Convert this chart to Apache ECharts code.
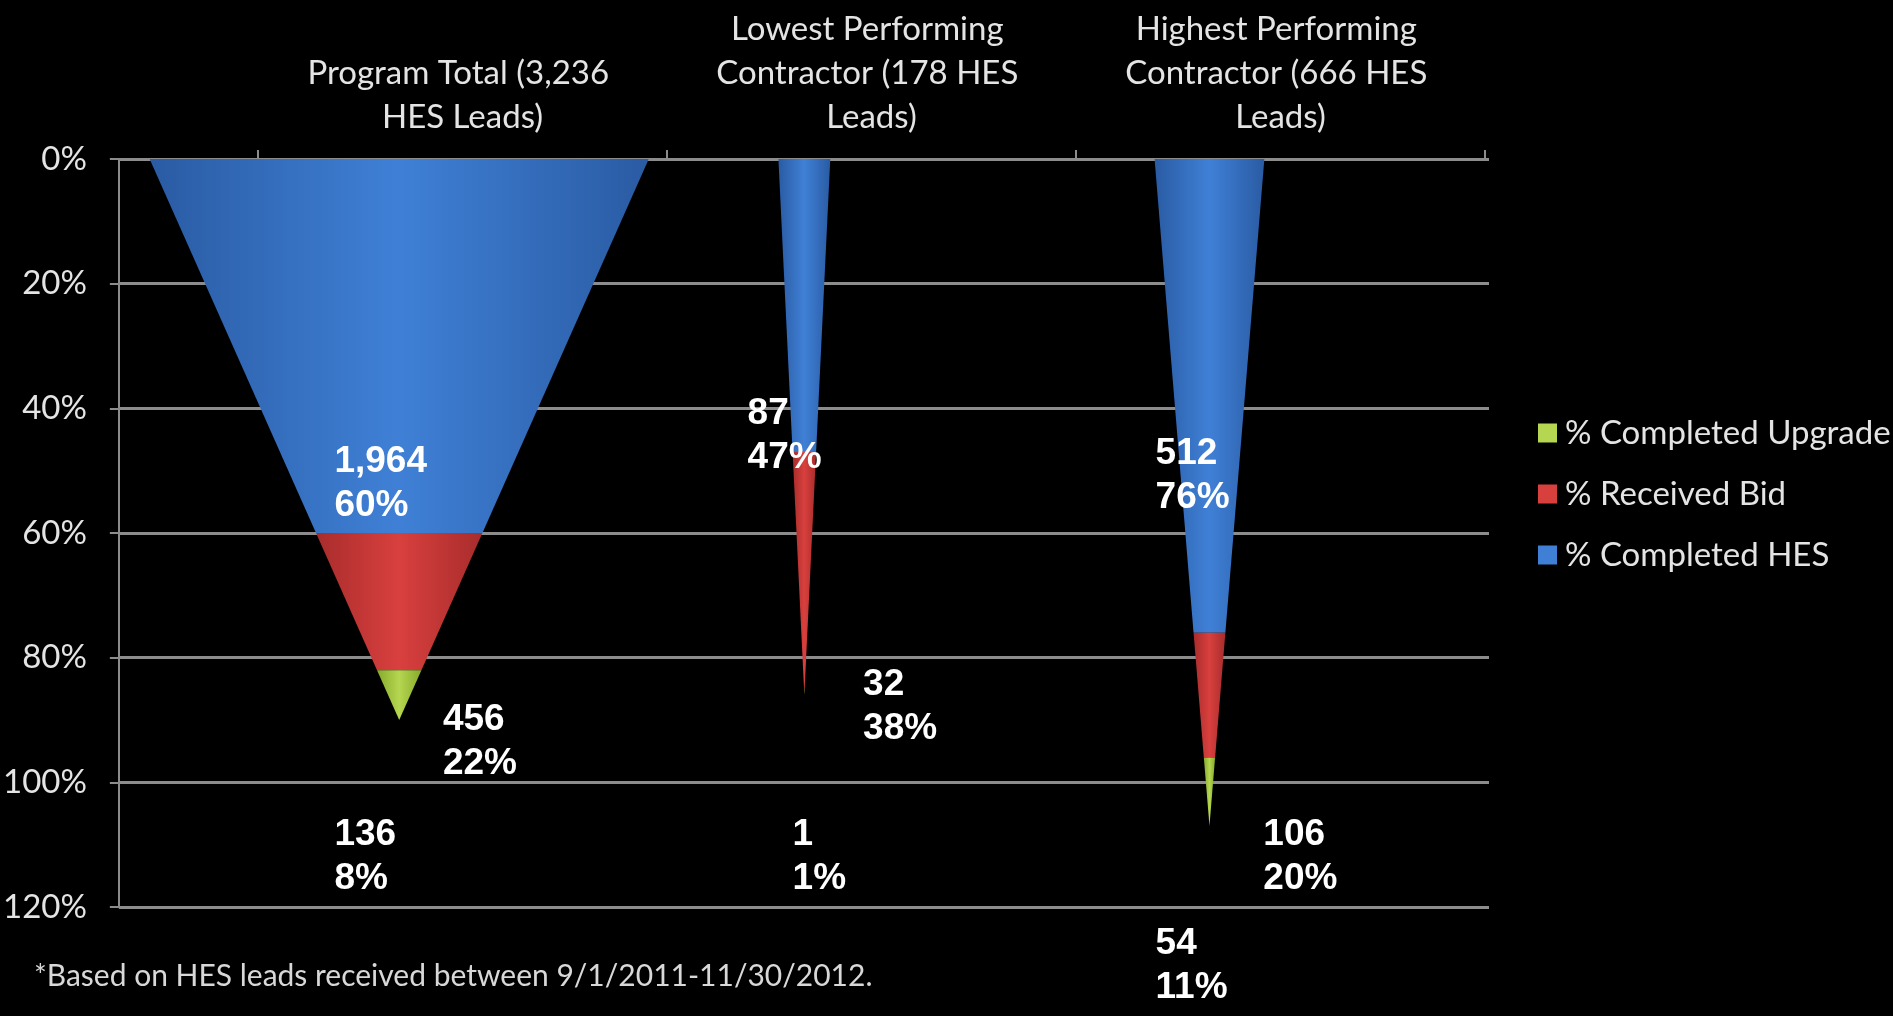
<!DOCTYPE html>
<html>
<head>
<meta charset="utf-8">
<title>HES Lead Conversion</title>
<script src="https://cdn.jsdelivr.net/npm/echarts@6/dist/echarts.min.js"></script>
<style>
  html, body { margin: 0; padding: 0; background: #000; }
  #chart { width: 1893px; height: 1016px; }
</style>
</head>
<body>
<div id="chart"></div>
<script>
// ---- data ----
const categories = [
  'Program Total (3,236 HES Leads)',
  'Lowest Performing Contractor (178 HES Leads)',
  'Highest Performing Contractor (666 HES Leads)'
];
const completedHesPct = [60, 47, 76];
const completedHesCount = [1964, 87, 512];
const receivedBidPct = [22, 38, 20];
const receivedBidCount = [456, 32, 106];
const completedUpgradePct = [8, 1, 11];
const completedUpgradeCount = [136, 1, 54];
const seriesNames = ['% Completed HES', '% Received Bid', '% Completed Upgrade'];
const footnote = '*Based on HES leads received between 9/1/2011-11/30/2012.';

// ---- layout / style ----
const STAGES = [
  { name: seriesNames[0], pct: completedHesPct, count: completedHesCount,
    colors: ['#2a5ba3', '#3f80d6', '#2a5ba3'] },
  { name: seriesNames[1], pct: receivedBidPct, count: receivedBidCount,
    colors: ['#a82c2c', '#d8403e', '#a82c2c'] },
  { name: seriesNames[2], pct: completedUpgradePct, count: completedUpgradeCount,
    colors: ['#86aa2c', '#b4d650', '#86aa2c'] }
];
// base width of each cone, in units of the (hidden) cone x axis
const CONE_WIDTH = [1.232, 0.128, 0.271];
// label anchor per stage and category: [x offset from cone centre, top of label in axis %]
const LABEL_AT = [
  [[-0.160, 45.1], [-0.140, 37.4], [-0.133, 43.8]],
  [[0.108, 86.5], [0.145, 80.9], [0.133, 104.9]],
  [[-0.160, 104.9], [-0.029, 104.9], [-0.133, 122.4]]
];
const GRID_COLOR = '#8c8c8c';
const TEXT_COLOR = '#e4e4e4';
const FONT = 'Lato';

const totals = categories.map((_, i) => STAGES.reduce((s, st) => s + st.pct[i], 0));

function makeRender(stageIdx) {
  const stage = STAGES[stageIdx];
  return function (params, api) {
    const i = api.value(0);
    const s = api.value(1);
    const e = api.value(2);
    const half = CONE_WIDTH[i] / 2;
    const hw = v => half * Math.max(0, 1 - v / totals[i]);
    const pts = [
      api.coord([i - hw(s), s]),
      api.coord([i + hw(s), s]),
      api.coord([i + hw(e), e]),
      api.coord([i - hw(e), e])
    ];
    const [dx, yTop] = LABEL_AT[stageIdx][i];
    const at = api.coord([i + dx, yTop]);
    const txt = api.value(3).toLocaleString('en-US') + '\n' + api.value(4) + '%';
    return {
      type: 'group',
      children: [
        {
          type: 'polygon',
          shape: { points: pts },
          style: {
            fill: new echarts.graphic.LinearGradient(0, 0, 1, 0, [
              { offset: 0, color: stage.colors[0] },
              { offset: 0.5, color: stage.colors[1] },
              { offset: 1, color: stage.colors[2] }
            ])
          }
        },
        {
          type: 'text',
          x: at[0],
          y: at[1],
          z2: 10,
          style: {
            text: txt,
            fill: '#ffffff',
            fontFamily: '"Liberation Sans", Arial, sans-serif',
            fontWeight: 'bold',
            fontSize: 37,
            lineHeight: 44,
            align: 'left',
            verticalAlign: 'top'
          }
        }
      ]
    };
  };
}

const series = STAGES.map((stage, k) => {
  const data = categories.map((_, i) => {
    let start = 0;
    for (let j = 0; j < k; j++) start += STAGES[j].pct[i];
    return [i, start, start + stage.pct[i], stage.count[i], stage.pct[i]];
  });
  return {
    type: 'custom',
    name: stage.name,
    xAxisIndex: 0,
    yAxisIndex: 0,
    itemStyle: { color: stage.colors[1] },
    renderItem: makeRender(k),
    data: data,
    z: 5
  };
});

const chart = echarts.init(document.getElementById('chart'), null, { renderer: 'canvas' });
chart.setOption({
  backgroundColor: '#000000',
  animation: false,
  textStyle: { fontFamily: FONT },
  grid: [
    { left: 116, right: 404, top: 159, bottom: 109 },
    { left: 258, right: 408, top: 159, bottom: 109 }
  ],
  xAxis: [
    { type: 'value', gridIndex: 0, min: -0.692, max: 2.690, show: false },
    {
      type: 'category', gridIndex: 1, position: 'top', data: categories,
      axisLine: { show: true, onZero: false, lineStyle: { color: GRID_COLOR, width: 3 } },
      axisTick: { show: true, length: 9, alignWithLabel: false, lineStyle: { color: GRID_COLOR, width: 2 } },
      axisLabel: {
        interval: 0, color: TEXT_COLOR, fontFamily: FONT, fontSize: 33,
        lineHeight: 44, margin: 20, width: 330, overflow: 'break'
      }
    }
  ],
  yAxis: [
    {
      type: 'value', gridIndex: 0, inverse: true, min: 0, max: 120, interval: 20,
      axisLabel: { formatter: '{value}%', color: TEXT_COLOR, fontFamily: FONT, fontSize: 33, margin: 32 },
      axisLine: { show: true, onZero: false, lineStyle: { color: GRID_COLOR, width: 2 } },
      axisTick: { show: true, length: 9, lineStyle: { color: GRID_COLOR, width: 2 } },
      splitLine: { show: true, lineStyle: { color: GRID_COLOR, width: 3 } }
    },
    { type: 'value', gridIndex: 1, inverse: true, min: 0, max: 120, show: false }
  ],
  legend: {
    orient: 'vertical',
    left: 1533,
    top: 408,
    data: [seriesNames[2], seriesNames[1], seriesNames[0]],
    icon: 'rect',
    itemWidth: 19,
    itemHeight: 19,
    itemGap: 21,
    textStyle: { color: TEXT_COLOR, fontFamily: FONT, fontSize: 33, lineHeight: 40, padding: [0, 0, 0, 3] }
  },
  graphic: [
    {
      type: 'text',
      left: 34,
      top: 961,
      style: { text: footnote, fill: '#d8d8d8', fontFamily: FONT, fontSize: 30 }
    }
  ],
  series: series
});
</script>
</body>
</html>
